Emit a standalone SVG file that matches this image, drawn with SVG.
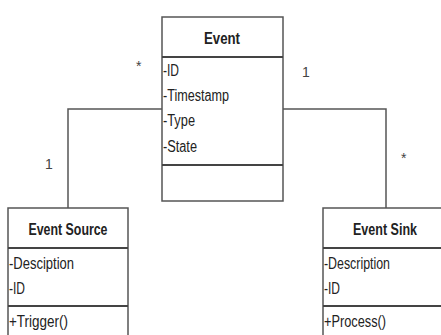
<svg xmlns="http://www.w3.org/2000/svg" width="441" height="335" viewBox="0 0 441 335">
<style>
.box{fill:#fff;stroke:#555;stroke-width:1.5}
.div{stroke:#444;stroke-width:2.2}
.conn{fill:none;stroke:#555;stroke-width:1.5}
text{font-family:"Liberation Sans",Arial,sans-serif;fill:#222}
.h{font-size:16px;font-weight:bold;text-anchor:middle}
.a{font-size:16px}
.m{font-size:14px;fill:#444}
</style>
<rect width="441" height="335" fill="#fff"/>
<g id="connectors">
<polyline class="conn" points="162,109 68,109 68,208"/>
<polyline class="conn" points="283,109 386,109 386,208"/>
<text class="m" x="136" y="71">*</text>
<text class="m" x="302" y="77">1</text>
<text class="m" x="45" y="169">1</text>
<text class="m" x="401" y="163">*</text>
</g>
<g id="event">
<rect class="box" x="162" y="17" width="121" height="184"/>
<line class="div" x1="162" y1="57" x2="283" y2="57"/>
<line class="div" x1="162" y1="165" x2="283" y2="165"/>
<text class="h" x="222" y="44" textLength="36" lengthAdjust="spacingAndGlyphs">Event</text>
<text class="a" x="163" y="76" textLength="16" lengthAdjust="spacingAndGlyphs">-ID</text>
<text class="a" x="163" y="101" textLength="66" lengthAdjust="spacingAndGlyphs">-Timestamp</text>
<text class="a" x="163" y="126" textLength="32" lengthAdjust="spacingAndGlyphs">-Type</text>
<text class="a" x="163" y="152" textLength="34" lengthAdjust="spacingAndGlyphs">-State</text>
</g>
<g id="event-source">
<rect class="box" x="8" y="208" width="120" height="140"/>
<line class="div" x1="8" y1="248" x2="128" y2="248"/>
<line class="div" x1="8" y1="306" x2="128" y2="306"/>
<text class="h" x="68" y="235" textLength="79" lengthAdjust="spacingAndGlyphs">Event Source</text>
<text class="a" x="9" y="269" textLength="65" lengthAdjust="spacingAndGlyphs">-Desciption</text>
<text class="a" x="9" y="294" textLength="16" lengthAdjust="spacingAndGlyphs">-ID</text>
<text class="a" x="9" y="327" textLength="59" lengthAdjust="spacingAndGlyphs">+Trigger()</text>
</g>
<g id="event-sink">
<rect class="box" x="323" y="208" width="122" height="140"/>
<line class="div" x1="323" y1="248" x2="445" y2="248"/>
<line class="div" x1="323" y1="306" x2="445" y2="306"/>
<text class="h" x="385" y="235" textLength="64" lengthAdjust="spacingAndGlyphs">Event Sink</text>
<text class="a" x="324" y="269" textLength="66" lengthAdjust="spacingAndGlyphs">-Description</text>
<text class="a" x="324" y="294" textLength="16" lengthAdjust="spacingAndGlyphs">-ID</text>
<text class="a" x="324" y="327" textLength="62" lengthAdjust="spacingAndGlyphs">+Process()</text>
</g>
</svg>
